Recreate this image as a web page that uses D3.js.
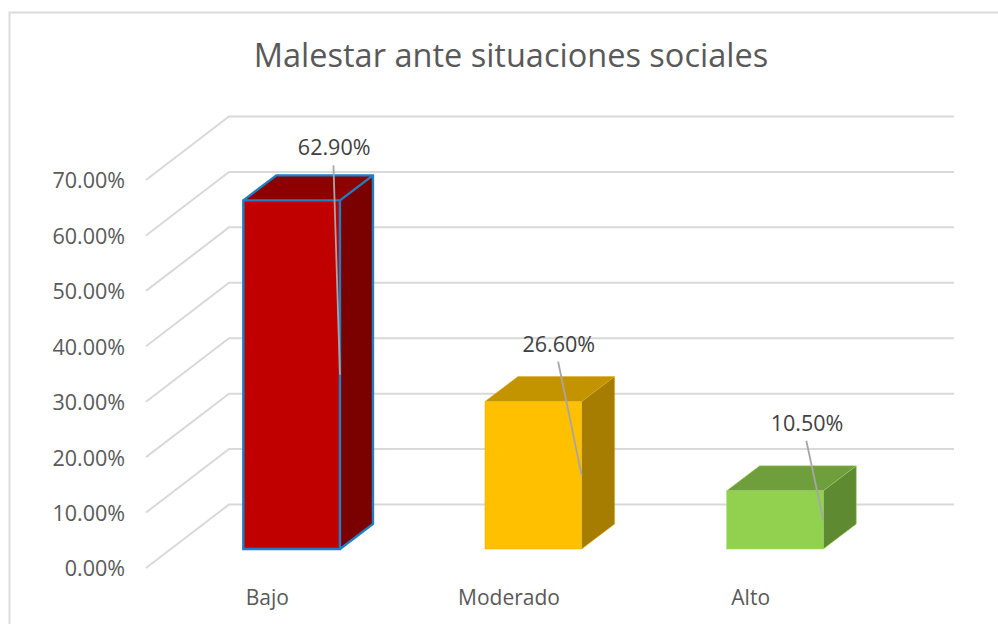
<!DOCTYPE html>
<html>
<head>
<meta charset="utf-8">
<script src="https://cdn.jsdelivr.net/npm/d3@7/dist/d3.min.js"></script>
<style>
html,body{margin:0;padding:0;background:#fff;overflow:hidden}
svg{display:block}
text{font-family:"Open Sans",sans-serif}
</style>
</head>
<body>
<svg id="c" width="998" height="624"></svg>
<script>
const title = "Malestar ante situaciones sociales";
const categories = ["Bajo", "Moderado", "Alto"];
const values = [62.9, 26.6, 10.5];
const valueLabels = ["62.90%", "26.60%", "10.50%"];
const ticks = [0, 10, 20, 30, 40, 50, 60, 70];
const frontColors = ["#c00000", "#ffc000", "#92d050"];
const topColors = ["#8e0000", "#c49400", "#6f9e3d"];
const sideColors = ["#7b0000", "#a67d00", "#5e8a31"];
const edgeColors = ["#1f7fc4", "#e0aa10", "#9ad45e"];
const labelOffsets = [[-6.5, -52], [-23.5, -57], [-17, -67]];

const svg = d3.select("#c");
const W = 998, H = 624;

svg.append("path")
  .attr("d", `M${W},12.5H9.5V${H}`)
  .attr("fill", "none").attr("stroke", "#dcdcdc").attr("stroke-width", 2);

svg.append("text").attr("x", 511).attr("y", 67).attr("text-anchor", "middle")
  .attr("font-size", 32.5).attr("fill", "#595959").text(title);

// scales on the front floor plane
const y = d3.scaleLinear().domain([0, 70]).range([568, 180]);
const depthX = 83, depthY = 63.5, wallW = 725;
const barLiftX = 24.8, barLiftY = 19;
const barDX = 33, barDY = 25;
const x = d3.scaleBand().domain(categories)
  .range([146 + barLiftX, 146 + barLiftX + wallW])
  .paddingInner(0.6).paddingOuter(0.3);

// gridlines: floor edge, then back wall
const grid = d3.line();
svg.append("g").selectAll("path").data(ticks).join("path")
  .attr("d", t => grid([[146, y(t)], [146 + depthX, y(t) - depthY], [146 + depthX + wallW, y(t) - depthY]]))
  .attr("fill", "none").attr("stroke", "#d9d9d9").attr("stroke-width", 2);

// value axis
const axis = d3.axisLeft(y).tickValues(ticks).tickSize(0).tickPadding(0)
  .tickFormat(d => d3.format(".2f")(d) + "%");
const ga = svg.append("g").attr("transform", "translate(125,1)").call(axis);
ga.select(".domain").remove();
ga.selectAll("text").attr("font-size", 21.5).attr("fill", "#595959")
  .style("font-family", '"Open Sans",sans-serif');

// bars
const bars = svg.append("g").selectAll("g").data(categories).join("g");
const poly = pts => "M" + pts.map(p => p.join(",")).join("L") + "Z";
const geom = (c, i) => {
  const x0 = x(c), x1 = x0 + x.bandwidth();
  const b = y(0) - barLiftY, t = y(values[i]) - barLiftY;
  return {x0, x1, b, t};
};
bars.append("path").attr("d", (c, i) => { const g = geom(c, i);
    return poly([[g.x1, g.t], [g.x1 + barDX, g.t - barDY], [g.x1 + barDX, g.b - barDY], [g.x1, g.b]]); })
  .attr("fill", (c, i) => sideColors[i]);
bars.append("path").attr("d", (c, i) => { const g = geom(c, i);
    return poly([[g.x0, g.t], [g.x0 + barDX, g.t - barDY], [g.x1 + barDX, g.t - barDY], [g.x1, g.t]]); })
  .attr("fill", (c, i) => topColors[i]);
bars.append("path").attr("d", (c, i) => { const g = geom(c, i);
    return poly([[g.x0, g.t], [g.x1, g.t], [g.x1, g.b], [g.x0, g.b]]); })
  .attr("fill", (c, i) => frontColors[i]);
// edges: strong blue on the first bar, faint on the others
bars.append("path").attr("d", (c, i) => { const g = geom(c, i);
    return `M${g.x0},${g.b}V${g.t}H${g.x1}V${g.b}Z` +
      `M${g.x0},${g.t}L${g.x0 + barDX},${g.t - barDY}H${g.x1 + barDX}V${g.b - barDY}L${g.x1},${g.b}` +
      `M${g.x1},${g.t}L${g.x1 + barDX},${g.t - barDY}`; })
  .attr("fill", "none").attr("stroke", (c, i) => edgeColors[i])
  .attr("stroke-width", (c, i) => i === 0 ? 2.4 : 0.8)
  .attr("stroke-opacity", (c, i) => i === 0 ? 1 : 0.6);

// leader lines and value labels
bars.append("line")
  .attr("x1", (c, i) => geom(c, i).x1 + labelOffsets[i][0])
  .attr("y1", (c, i) => geom(c, i).t + labelOffsets[i][1] + 17)
  .attr("x2", (c, i) => geom(c, i).x1)
  .attr("y2", (c, i) => (geom(c, i).t + geom(c, i).b) / 2)
  .attr("stroke", "#a6a6a6").attr("stroke-width", 1.8);
bars.append("text")
  .attr("x", (c, i) => geom(c, i).x1 + labelOffsets[i][0] + 0.7)
  .attr("y", (c, i) => geom(c, i).t + labelOffsets[i][1] + 7)
  .attr("text-anchor", "middle").attr("font-size", 21.5).attr("fill", "#404040")
  .text((c, i) => valueLabels[i]);

// category labels
svg.append("g").selectAll("text").data(categories).join("text")
  .attr("x", c => x(c) + x.bandwidth() / 2 - barLiftX + 0.5)
  .attr("y", 605).attr("text-anchor", "middle")
  .attr("font-size", 21).attr("fill", "#595959").text(c => c);
</script>
</body>
</html>
